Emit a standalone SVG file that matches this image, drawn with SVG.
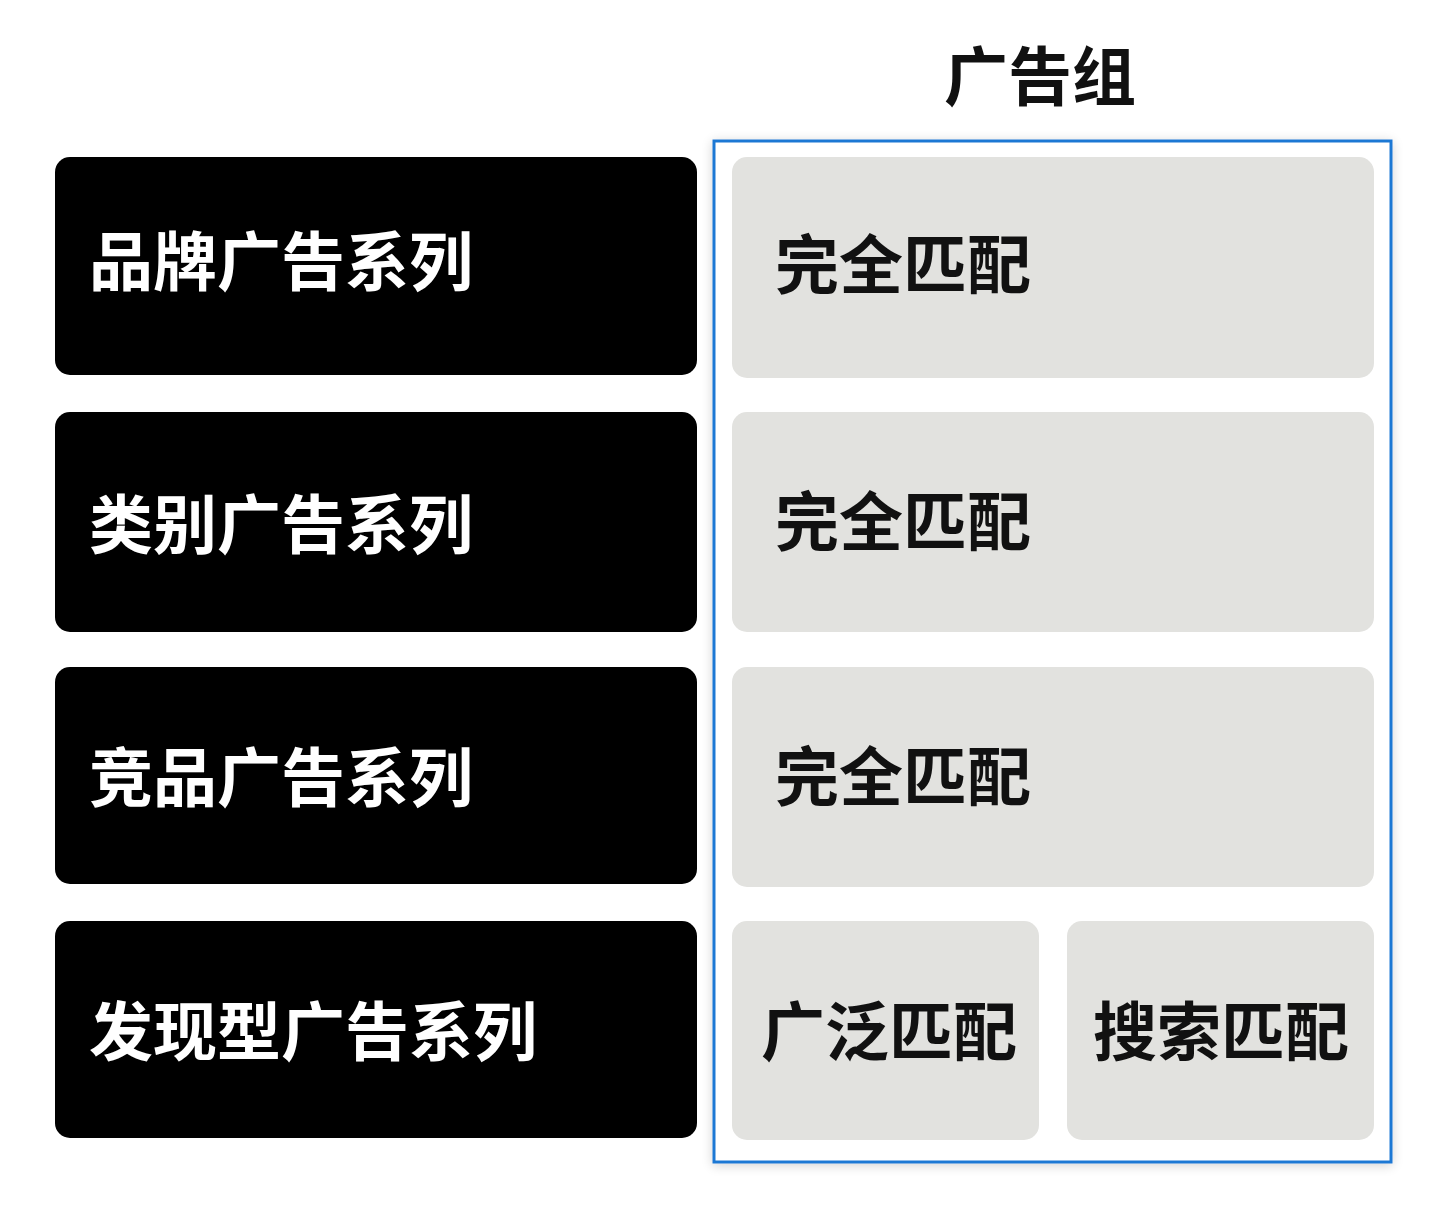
<svg xmlns="http://www.w3.org/2000/svg" width="1440" height="1216" viewBox="0 0 1440 1216">
<defs>
<filter id="sh" x="-5%" y="-5%" width="110%" height="110%">
<feGaussianBlur in="SourceAlpha" stdDeviation="6"/>
<feOffset dx="0" dy="2"/>
<feComponentTransfer><feFuncA type="linear" slope="0.18"/></feComponentTransfer>
<feMerge><feMergeNode/><feMergeNode in="SourceGraphic"/></feMerge>
</filter>
<style>
.cam{fill:#000000}
.grp{fill:#e2e2df}
.t{font-family:"Noto Sans CJK SC","Noto Sans",sans-serif;font-weight:bold;font-size:64px;dominant-baseline:central}
.tw{fill:#ffffff}
.tb{fill:#111111}
</style>
</defs>
<rect width="1440" height="1216" fill="#ffffff"/>
<text class="t tb" x="1040" y="72" text-anchor="middle">广告组</text>
<g id="container">
<rect x="714" y="141" width="677" height="1021" fill="#ffffff" stroke="#1f78d4" stroke-width="3" filter="url(#sh)"/>
</g>
<g id="campaign-brand"><rect class="cam" x="55" y="157" width="642" height="218" rx="15"/><text class="t tw" x="89" y="257">品牌广告系列</text></g>
<g id="campaign-category"><rect class="cam" x="55" y="412" width="642" height="220" rx="15"/><text class="t tw" x="89" y="520">类别广告系列</text></g>
<g id="campaign-competitor"><rect class="cam" x="55" y="667" width="642" height="217" rx="15"/><text class="t tw" x="89" y="773">竞品广告系列</text></g>
<g id="campaign-discovery"><rect class="cam" x="55" y="921" width="642" height="217" rx="15"/><text class="t tw" x="89" y="1027">发现型广告系列</text></g>
<g id="group-exact-1"><rect class="grp" x="732" y="157" width="642" height="221" rx="15"/><text class="t tb" x="775" y="260">完全匹配</text></g>
<g id="group-exact-2"><rect class="grp" x="732" y="412" width="642" height="220" rx="15"/><text class="t tb" x="775" y="517">完全匹配</text></g>
<g id="group-exact-3"><rect class="grp" x="732" y="667" width="642" height="220" rx="15"/><text class="t tb" x="775" y="772">完全匹配</text></g>
<g id="group-broad"><rect class="grp" x="732" y="921" width="307" height="219" rx="15"/><text class="t tb" x="889" y="1027" text-anchor="middle">广泛匹配</text></g>
<g id="group-search"><rect class="grp" x="1067" y="921" width="307" height="219" rx="15"/><text class="t tb" x="1221" y="1027" text-anchor="middle">搜索匹配</text></g>
<g id="connectors"></g>
</svg>
